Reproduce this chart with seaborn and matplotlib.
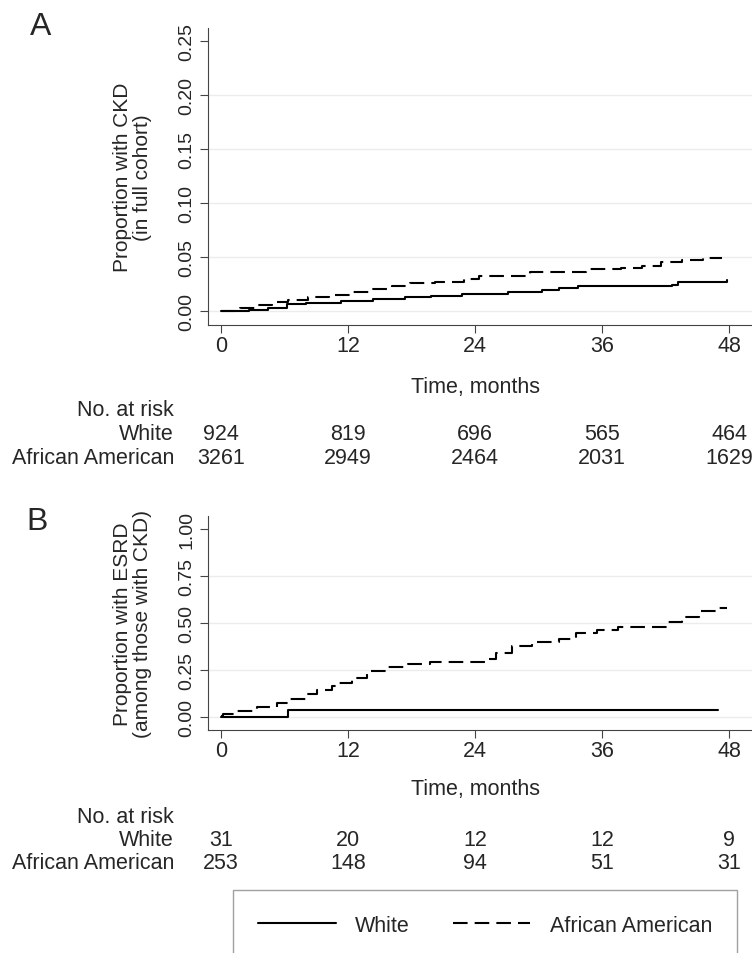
import matplotlib
matplotlib.use('Agg')
import matplotlib.pyplot as plt
import pandas as pd
import seaborn as sns
from matplotlib import font_manager

# ---------------------------------------------- dados ----------------------------------------------
groups = ['White', 'African American']
tick_months = [0, 12, 24, 36, 48]

# Painel A - proporção com CKD (coorte completa)
a_white_t = [0, 2.6, 4.4, 6.2, 8.0, 11.3, 14.4, 17.4, 19.8, 22.8, 27.1, 30.3, 31.9, 33.7, 42.6, 43.2, 47.8]
a_white_v = [0, 0.001, 0.003, 0.006, 0.007, 0.009, 0.011, 0.013, 0.014, 0.016, 0.018, 0.0195, 0.021, 0.0228,
             0.0245, 0.0265, 0.029]
a_aa_t = [0, 1.8, 3.4, 4.8, 6.3, 8.2, 10.2, 12.2, 14.2, 16.2, 17.9, 20.2, 23.0, 24.4, 29.2, 34.5, 37.8, 39.8,
          41.6, 43.6, 45.5, 47.3]
a_aa_v = [0, 0.003, 0.0055, 0.008, 0.010, 0.0125, 0.015, 0.018, 0.0205, 0.023, 0.0255, 0.027, 0.030, 0.032,
          0.0365, 0.0385, 0.0395, 0.042, 0.0457, 0.047, 0.0488, 0.0488]
a_risk_white = [924, 819, 696, 565, 464]
a_risk_aa = [3261, 2949, 2464, 2031, 1629]

# Painel B - proporção com ESRD (entre os que têm CKD)
b_white_t = [0, 6.35, 47.0]
b_white_v = [0, 0.038, 0.038]
b_aa_t = [0, 0.2, 1.5, 3.4, 5.3, 6.5, 8.1, 9.1, 10.5, 10.9, 12.4, 13.8, 15.8, 17.7, 19.7, 24.9, 26.0, 27.5,
          29.4, 31.9, 33.5, 35.5, 37.5, 42.1, 43.6, 45.2, 46.9, 47.8]
b_aa_v = [0.005, 0.014, 0.032, 0.055, 0.076, 0.098, 0.12, 0.142, 0.165, 0.183, 0.21, 0.245, 0.265, 0.28, 0.295,
          0.31, 0.343, 0.378, 0.40, 0.414, 0.445, 0.465, 0.478, 0.505, 0.533, 0.562, 0.58, 0.58]
b_risk_white = [31, 20, 12, 12, 9]
b_risk_aa = [253, 148, 94, 51, 31]

# ---------------------------------------------- estilo ----------------------------------------------
sns.set_style('ticks')
names = {f.name for f in font_manager.fontManager.ttflist}
narrow = 'Liberation Sans Narrow' if 'Liberation Sans Narrow' in names else 'Liberation Sans'
nsize = 17.5 if narrow == 'Liberation Sans Narrow' else 15.5
plt.rcParams['font.family'] = ['Liberation Sans', 'DejaVu Sans']

W, H = 752, 954
fig = plt.figure(figsize=(W / 100, H / 100), dpi=100)


def make_df(wt, wv, at, av):
    return pd.concat([
        pd.DataFrame({'time': wt, 'value': wv, 'group': 'White'}),
        pd.DataFrame({'time': at, 'value': av, 'group': 'African American'}),
    ], ignore_index=True)


def panel(top, bottom, df, yticks, ylim, ylabel, risk_w, risk_aa, rows_px):
    ax = fig.add_axes([208 / W, 1 - bottom / H, (W - 208) / W, (bottom - top) / H])
    sns.lineplot(data=df, x='time', y='value', style='group', style_order=groups,
                 dashes={'White': '', 'African American': (7, 3.4)}, color='black', linewidth=1.5,
                 drawstyle='steps-post', estimator=None, sort=False, legend=False, ax=ax)
    ax.set_xlim(-1.23, 50.17)
    ax.set_ylim(*ylim)
    ax.set_xticks(tick_months)
    ax.set_yticks(yticks)
    ax.set_yticklabels([f'{v:.2f}' for v in yticks])
    ax.set_xticklabels([str(t) for t in tick_months], family=narrow, fontsize=nsize)
    plt.setp(ax.get_yticklabels(), rotation=90, va='center', ha='right', fontsize=14)
    ax.tick_params(axis='both', direction='out', length=6, width=0.8, color='#444')
    ax.tick_params(axis='x', pad=1.5)
    ax.tick_params(axis='y', pad=3)
    for s in ['top', 'right']:
        ax.spines[s].set_visible(False)
    for s in ['left', 'bottom']:
        ax.spines[s].set_color('#444')
        ax.spines[s].set_linewidth(0.8)
    ax.yaxis.grid(True, color='#ececec', linewidth=1)
    ax.yaxis.get_gridlines()[-1].set_visible(False)
    ax.set_xlabel('')
    ax.set_ylabel(ylabel, fontsize=15, labelpad=19, linespacing=1.05)

    # tabela de número em risco
    h = bottom - top
    fr = [(bottom - p) / h for p in rows_px]
    ax.text(24, fr[0], 'Time, months', transform=ax.get_xaxis_transform(), ha='center', va='center',
            family=narrow, fontsize=nsize, clip_on=False)
    xa = (174 - 208) / (W - 208)
    for lab, y in zip(['No. at risk', 'White', 'African American'], fr[1:]):
        ax.text(xa, y, lab, transform=ax.transAxes, ha='right', va='center', family=narrow, fontsize=nsize)
    for t, nw, na in zip(tick_months, risk_w, risk_aa):
        ax.text(t, fr[2], str(nw), transform=ax.get_xaxis_transform(), ha='center', va='center',
                family=narrow, fontsize=nsize)
        ax.text(t, fr[3], str(na), transform=ax.get_xaxis_transform(), ha='center', va='center',
                family=narrow, fontsize=nsize)
    return ax


ax_a = panel(29, 326, make_df(a_white_t, a_white_v, a_aa_t, a_aa_v), [0, 0.05, 0.10, 0.15, 0.20, 0.25],
             (-0.013, 0.262), 'Proportion with CKD\n(in full cohort)', a_risk_white, a_risk_aa,
             [388, 411, 435, 459])
ax_b = panel(517, 731, make_df(b_white_t, b_white_v, b_aa_t, b_aa_v), [0, 0.25, 0.50, 0.75, 1.00],
             (-0.069, 1.069), 'Proportion with ESRD\n(among those with CKD)', b_risk_white, b_risk_aa,
             [790, 818, 841, 864])

fig.text(30 / W, 1 - 35 / H, 'A', family=narrow, fontsize=23, va='baseline')
fig.text(26 / W, 1 - 530 / H, 'B', family=narrow, fontsize=23, va='baseline')

leg = fig.legend(ax_a.get_lines()[:2], groups, ncol=2, loc='upper center',
                 bbox_to_anchor=(485 / W, 1 - 891 / H), borderaxespad=0, handlelength=3.6,
                 handletextpad=0.9, columnspacing=2.0, borderpad=1.15, frameon=True, fancybox=False,
                 prop={'family': narrow, 'size': nsize})
leg.get_frame().set_edgecolor('#888')
leg.get_frame().set_linewidth(1)

fig.savefig('out.png', dpi=100)
